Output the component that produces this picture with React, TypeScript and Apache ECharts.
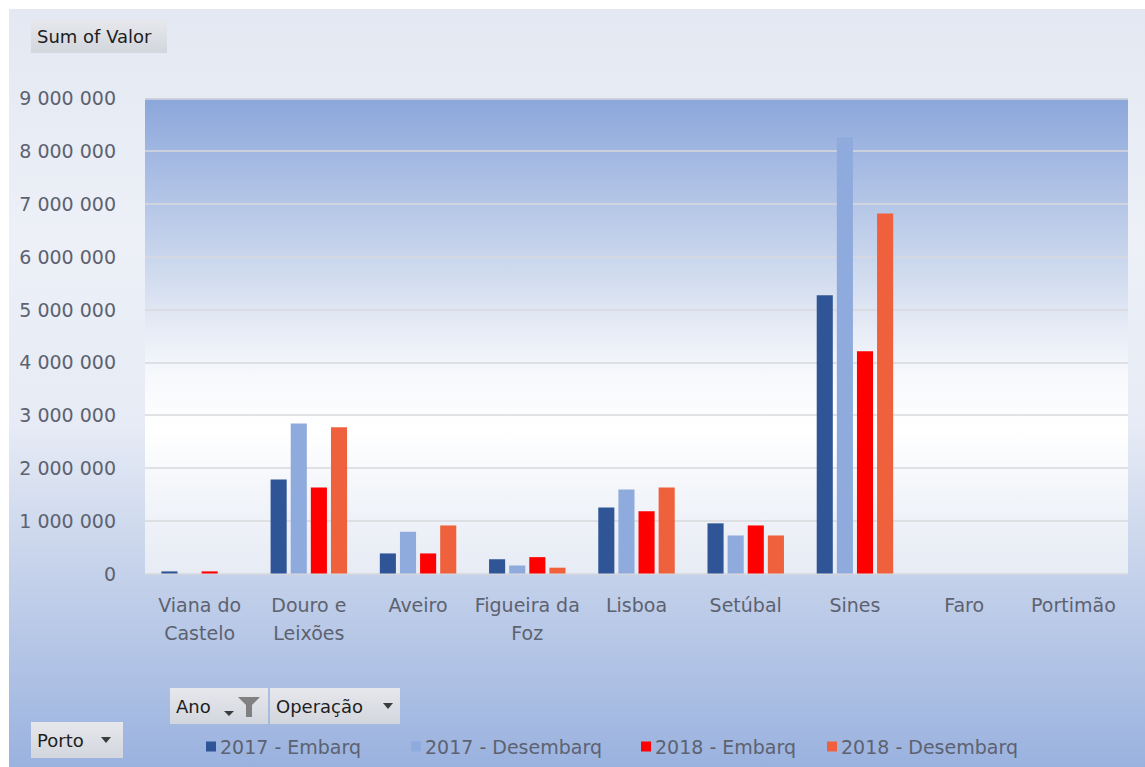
import React, { useEffect, useRef } from "react";
import * as echarts from "echarts";

const categories = [
  "Viana do\nCastelo",
  "Douro e\nLeixões",
  "Aveiro",
  "Figueira da\nFoz",
  "Lisboa",
  "Setúbal",
  "Sines",
  "Faro",
  "Portimão",
];
const seriesNames = ["2017 - Embarq", "2017 - Desembarq", "2018 - Embarq", "2018 - Desembarq"];
const embarq2017 = [40000, 1780000, 380000, 270000, 1250000, 950000, 5270000, 0, 0];
const desembarq2017 = [0, 2840000, 790000, 150000, 1590000, 720000, 8260000, 0, 0];
const embarq2018 = [40000, 1630000, 380000, 310000, 1180000, 910000, 4210000, 0, 0];
const desembarq2018 = [0, 2770000, 910000, 110000, 1630000, 720000, 6820000, 0, 0];
const seriesColors = ["#2f5597", "#8faadc", "#ff0000", "#ef603c"];

const FONT = "DejaVu Sans";
const TXT = "#5d6270";

function fmt(v: number) {
  return String(v).replace(/\B(?=(\d{3})+(?!\d))/g, " ");
}

function button(x: number, y: number, w: number, h: number, label: string, children: any[] = []) {
  return {
    type: "group",
    children: [
      {
        type: "rect",
        shape: { x, y, width: w, height: h },
        style: {
          fill: new echarts.graphic.LinearGradient(0, 0, 0, 1, [
            { offset: 0, color: "#e6e8ec" },
            { offset: 1, color: "#d2d6dd" },
          ]),
        },
      },
      {
        type: "text",
        style: {
          x: x + 6,
          y: y + h / 2,
          text: label,
          fill: "#1e1e1e",
          font: `18px "${FONT}"`,
          verticalAlign: "middle",
        },
      },
      ...children,
    ],
  };
}

function tri(cx: number, cy: number) {
  return {
    type: "polygon",
    shape: { points: [[cx - 5, cy - 3], [cx + 5, cy - 3], [cx, cy + 3]] },
    style: { fill: "#3c3c3c" },
  };
}

export default function App() {
  const ref = useRef<HTMLDivElement>(null);
  useEffect(() => {
    const chart = echarts.init(ref.current!, null, { renderer: "svg" });
    const dataSets = [embarq2017, desembarq2017, embarq2018, desembarq2018];
    const legendLefts = [206, 411, 641, 827];
    chart.setOption({
      animation: false,
      grid: {
        left: 145,
        right: 17,
        top: 98.3,
        bottom: 193.5,
        show: true,
        borderWidth: 0,
        backgroundColor: new echarts.graphic.LinearGradient(0, 0, 0, 1, [
          { offset: 0, color: "#8ba6da" },
          { offset: 0.12, color: "#a2b8e2" },
          { offset: 0.33, color: "#c8d5ec" },
          { offset: 0.46, color: "#e2e8f4" },
          { offset: 0.58, color: "#f6f8fc" },
          { offset: 0.7, color: "#ffffff" },
          { offset: 0.85, color: "#f1f4f9" },
          { offset: 1, color: "#e7ebf4" },
        ]),
      },
      legend: seriesNames.map((n, i) => ({
        data: [n],
        left: legendLefts[i],
        top: 737,
        itemWidth: 10,
        itemHeight: 10,
        icon: "rect",
        selectedMode: false,
        padding: 0,
        itemGap: 4,
        textStyle: { color: TXT, fontFamily: FONT, fontSize: 19, padding: [0, 0, 0, -1] },
      })),
      xAxis: {
        type: "category",
        data: categories,
        axisLine: { show: true, lineStyle: { color: "#d9dce3" } },
        axisTick: { show: false },
        axisLabel: {
          color: TXT,
          fontFamily: FONT,
          fontSize: 19,
          lineHeight: 28,
          margin: 17,
          interval: 0,
          align: "center",
        },
      },
      yAxis: {
        type: "value",
        min: 0,
        max: 9000000,
        interval: 1000000,
        axisLine: { show: false },
        axisTick: { show: false },
        splitLine: { lineStyle: { color: "#d9d9dc", width: 1.5 } },
        axisLabel: {
          color: TXT,
          fontFamily: FONT,
          fontSize: 19,
          margin: 29,
          formatter: (v: number) => fmt(v),
        },
      },
      series: dataSets.map((d, i) => ({
        name: seriesNames[i],
        type: "bar",
        data: d,
        barGap: "25%",
        barCategoryGap: "30%",
        itemStyle: { color: seriesColors[i] },
      })),
      graphic: [
        {
          type: "rect",
          z: -100,
          shape: { x: 9, y: 9, width: 1136, height: 758 },
          style: {
            fill: new echarts.graphic.LinearGradient(0, 0, 0, 1, [
              { offset: 0, color: "#e3e8f2" },
              { offset: 0.3, color: "#edf0f7" },
              { offset: 0.55, color: "#e6ebf5" },
              { offset: 0.75, color: "#c4d1ea" },
              { offset: 1, color: "#9ab2df" },
            ]),
          },
        },
        button(31, 20, 136, 33, "Sum of Valor"),
        button(170, 688, 98, 36, "Ano", [
          {
            type: "polygon",
            shape: { points: [[224, 711], [234, 711], [229, 716]] },
            style: { fill: "#3c3c3c" },
          },
          {
            type: "polygon",
            shape: {
              points: [
                [238, 697],
                [260, 697],
                [252, 705],
                [252, 717],
                [246, 717],
                [246, 705],
              ],
            },
            style: { fill: "#808080" },
          },
        ]),
        button(270, 688, 130, 36, "Operação", [tri(388, 706)]),
        button(31, 722, 92, 36, "Porto", [tri(106, 740)]),
      ],
    });
    return () => chart.dispose();
  }, []);
  return (
    <div
      ref={ref}
      style={{ position: "absolute", left: 0, top: 0, width: 1145, height: 767, background: "#ffffff" }}
    />
  );
}
